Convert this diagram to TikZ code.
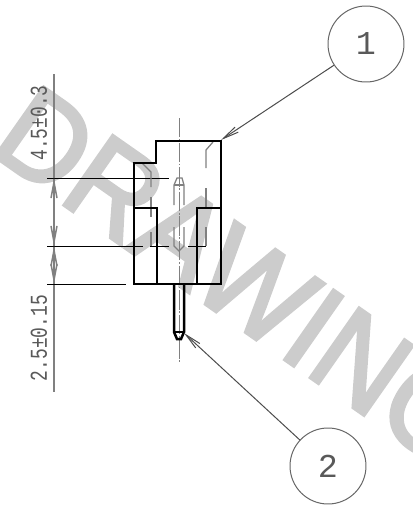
\documentclass[tikz,border=0pt]{standalone}
\usepackage{fontspec}
\usetikzlibrary{arrows.meta}
\newfontfamily\cadfont{Liberation Mono}
\newfontfamily\markfont[FakeBold=3]{Liberation Sans}
\begin{document}
\begin{tikzpicture}[x=0.02cm, y=-0.02cm, >={Straight Barb[length=0.32cm,width=0.12cm]},
	body/.style={line width=0.05cm, color=black},
	hidden/.style={line width=0.025cm, color=black!50},
	centre/.style={line width=0.02cm, color=black!50, dash pattern=on 11pt off 1pt on 1pt off 1pt},
	dimline/.style={line width=0.02cm, color=black},
	dimaxis/.style={line width=0.03cm, color=black!50},
	balloon/.style={circle, draw=black!60, line width=0.02cm, minimum size=1.52cm, inner sep=0pt, text=black!65, font=\cadfont\fontsize{19}{19}\selectfont},
	dimtext/.style={rotate=90, yscale=1.35, inner sep=0pt, text=black!65, font=\cadfont\fontsize{10.2}{10.2}\selectfont},
	leader/.style={->, line width=0.02cm, color=black!70}]
			%%%%% START %%%%%
			\useasboundingbox (0, 0) rectangle (413, 518);
			\clip (0, 0) rectangle (413, 518);
			
			% watermark
			\node[rotate=-35, xscale=0.95, inner sep=0pt, text=black!20, font=\markfont\fontsize{70}{70}\selectfont, anchor=base west] (watermark) at (-13, 151) {DRAWING};
			
			% dimension axis
			\draw[dimaxis] (54, 74) -- (54, 392);
			\node[dimtext] (upper) at (39, 123) {4.5±0.3};
			\node[dimtext] (lower) at (39, 338) {2.5±0.15};
			
			\draw[dimline] (47, 178) -- (169, 178);
			\draw[dimline] (47, 246) -- (143, 246);
			\draw[dimline] (150, 246) -- (169, 246);
			\draw[dimline] (188, 246) -- (206, 246);
			\draw[dimline] (47, 284) -- (126, 284);
			
			\draw[dimaxis, ->] (54, 194) -- (54, 178);
			\draw[dimaxis, ->] (54, 231) -- (54, 246);
			\draw[dimaxis, ->] (54, 262) -- (54, 246);
			\draw[dimaxis, ->] (54, 269) -- (54, 284);
			
			% centre line
			\draw[centre] (179, 118) -- (179, 362);
			
			% hidden edges
			\draw[hidden] (206, 168) -- (206, 150) -- (213, 142);
			\draw[hidden] (206, 188) -- (206, 208);
			\draw[hidden] (206, 227) -- (206, 246);
			\draw[hidden] (142, 163) -- (151, 172) -- (151, 187);
			\draw[hidden] (151, 197) -- (151, 217);
			\draw[hidden] (151, 232) -- (151, 246);
			\draw[hidden] (174, 205) -- (174, 185) -- (177, 178) -- (182, 178) -- (184, 185) -- (184, 205);
			\draw[hidden] (174, 185) -- (184, 185);
			\draw[hidden] (174, 227) -- (174, 246) -- (179, 251) -- (184, 246) -- (184, 227);
			
			% housing
			\draw[body] (156, 141) -- (221, 141) -- (221, 284) -- (134, 284) -- (134, 163) -- (156, 163) -- cycle;
			\draw[body] (134, 208) -- (157, 208) -- (157, 284);
			\draw[body] (221, 208) -- (197, 208) -- (197, 284);
			
			% pin
			\draw[body] (174, 284) -- (174, 332) -- (177, 339) -- (181, 339) -- (184, 332) -- (184, 284);
			\draw[line width=0.03cm] (174, 332) -- (184, 332);
			
			% balloons
			\node[balloon] (one) at (366, 44) {1};
			\node[balloon] (two) at (328, 466) {2};
			\coordinate (corner) at (221, 140);
			\coordinate (tip) at (184, 333);
			\draw[leader] (one) -- (corner);
			\draw[leader] (two) -- (tip);
			
			%%%%% END %%%%%
\end{tikzpicture}
\end{document}
